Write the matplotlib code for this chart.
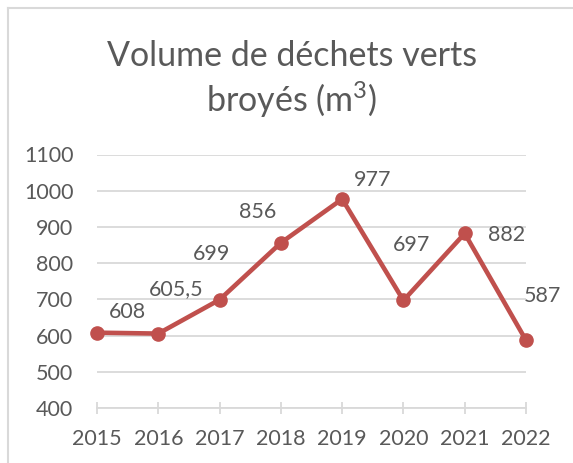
import matplotlib.pyplot as plt
from matplotlib.lines import Line2D

# Data
years = ['2015', '2016', '2017', '2018', '2019', '2020', '2021', '2022']
volumes = [608, 605.5, 699, 856, 977, 697, 882, 587]
value_labels = ['608', '605,5', '699', '856', '977', '697', '882', '587']
y_ticks = [400, 500, 600, 700, 800, 900, 1000, 1100]

# label offsets in points (Excel labels were moved by hand)
label_offsets = [(22, 15), (13, 32), (-6, 33), (-17, 22),
                 (22, 14), (6, 40), (30, -1), (12, 32)]

TEXT_GREY = '#595959'
GRID_GREY = '#D9D9D9'
LINE_RED = '#C0504D'

plt.rcParams['font.family'] = ['Lato', 'DejaVu Sans']
plt.rcParams['mathtext.fontset'] = 'custom'
plt.rcParams['mathtext.rm'] = 'Lato'
plt.rcParams['mathtext.default'] = 'rm'

fig = plt.figure(figsize=(5.73, 4.63), dpi=100)
ax = fig.add_axes([97/573, 1 - 408/463, (526 - 97)/573, (408 - 154.5)/463])

x = list(range(len(years)))
ax.plot(x, volumes, color=LINE_RED, linewidth=3.3, marker='o',
        markersize=9.5, clip_on=False, zorder=3)

for xi, v, lab, off in zip(x, volumes, value_labels, label_offsets):
    ax.annotate(lab, (xi, v), xytext=off, textcoords='offset points',
                ha='center', va='center', fontsize=15.5, color=TEXT_GREY)

ax.set_xlim(0, len(years) - 1)
ax.set_ylim(400, 1100)
ax.set_yticks(y_ticks)
ax.set_xticks(x)
ax.set_xticklabels(years)
ax.yaxis.grid(True, color=GRID_GREY, linewidth=1.3)
ax.set_axisbelow(True)
for side in ['top', 'right', 'left']:
    ax.spines[side].set_visible(False)
ax.spines['bottom'].set_color(GRID_GREY)
ax.spines['bottom'].set_linewidth(1.3)
ax.tick_params(axis='y', length=0, pad=17, labelsize=15.5, labelcolor=TEXT_GREY)
ax.tick_params(axis='x', direction='inout', length=8, width=1.3, color=GRID_GREY,
               pad=11, labelsize=15.5, labelcolor=TEXT_GREY)

fig.text(292/573, 1 - 56/463, 'Volume de déchets verts',
         ha='center', va='center', fontsize=24.5, color=TEXT_GREY)
fig.text(292/573, 1 - 100/463, r'broyés (m$^3$)',
         ha='center', va='center', fontsize=24.5, color=TEXT_GREY)

# chart frame (cut off on right and bottom in the reference)
fig.add_artist(Line2D([8/573, 8/573], [0, 1 - 8/463], color=GRID_GREY,
                      linewidth=1.5, transform=fig.transFigure))
fig.add_artist(Line2D([8/573, 1], [1 - 8/463, 1 - 8/463], color=GRID_GREY,
                      linewidth=1.5, transform=fig.transFigure))

fig.savefig('out.png', dpi=100)
